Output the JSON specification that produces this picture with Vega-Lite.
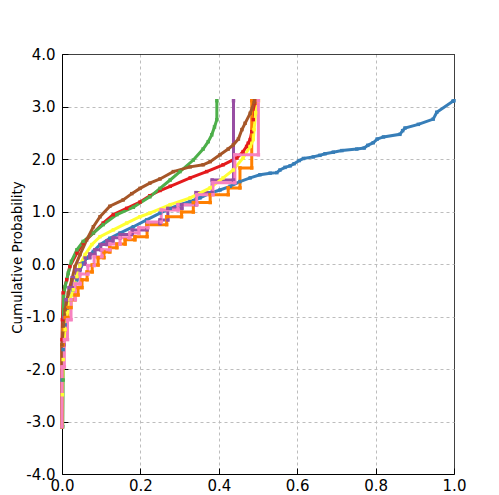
{
"$schema": "https://vega.github.io/schema/vega-lite/v6.json",
"autosize": {"type": "none"},
"width": 392, "height": 420,
"padding": {"left": 62, "top": 54, "right": 45, "bottom": 21},
"background": "white",
"config": {"view": {"stroke": null}, "font": "DejaVu Sans"},
"data": {"values": [
{"s":"R","i":1,"x":0,"y":-3.1},{"s":"R","i":2,"x":0,"y":-1.44},{"s":"R","i":3,"x":0.001,"y":-1.06},{"s":"R","i":4,"x":0.003,"y":-0.55},{"s":"R","i":5,"x":0.012,"y":-0.3},{"s":"R","i":6,"x":0.02,"y":-0.05},{"s":"R","i":7,"x":0.038,"y":0.21},{"s":"R","i":8,"x":0.054,"y":0.4},{"s":"R","i":9,"x":0.08,"y":0.59},{"s":"R","i":10,"x":0.105,"y":0.78},{"s":"R","i":11,"x":0.131,"y":0.94},{"s":"R","i":12,"x":0.165,"y":1.06},{"s":"R","i":13,"x":0.199,"y":1.18},{"s":"R","i":14,"x":0.224,"y":1.3},{"s":"R","i":15,"x":0.25,"y":1.4},{"s":"R","i":16,"x":0.276,"y":1.48},{"s":"R","i":17,"x":0.327,"y":1.64},{"s":"R","i":18,"x":0.369,"y":1.76},{"s":"R","i":19,"x":0.411,"y":1.89},{"s":"R","i":20,"x":0.446,"y":2.02},{"s":"R","i":21,"x":0.462,"y":2.14},{"s":"R","i":22,"x":0.471,"y":2.24},{"s":"R","i":23,"x":0.475,"y":2.3},{"s":"R","i":24,"x":0.48,"y":2.37},{"s":"R","i":25,"x":0.484,"y":2.52},{"s":"R","i":26,"x":0.488,"y":2.75},{"s":"R","i":27,"x":0.492,"y":3.06},{"s":"R","i":28,"x":0.494,"y":3.11},
{"s":"B","i":1,"x":0,"y":-3.1},{"s":"B","i":2,"x":0,"y":-2.21},{"s":"B","i":3,"x":0.003,"y":-1.63},{"s":"B","i":4,"x":0.008,"y":-1.16},{"s":"B","i":5,"x":0.013,"y":-0.87},{"s":"B","i":6,"x":0.02,"y":-0.68},{"s":"B","i":7,"x":0.028,"y":-0.49},{"s":"B","i":8,"x":0.038,"y":-0.3},{"s":"B","i":9,"x":0.046,"y":-0.11},{"s":"B","i":10,"x":0.054,"y":0.02},{"s":"B","i":11,"x":0.063,"y":0.11},{"s":"B","i":12,"x":0.08,"y":0.24},{"s":"B","i":13,"x":0.097,"y":0.37},{"s":"B","i":14,"x":0.122,"y":0.49},{"s":"B","i":15,"x":0.148,"y":0.59},{"s":"B","i":16,"x":0.182,"y":0.71},{"s":"B","i":17,"x":0.216,"y":0.84},{"s":"B","i":18,"x":0.25,"y":0.97},{"s":"B","i":19,"x":0.276,"y":1.06},{"s":"B","i":20,"x":0.301,"y":1.13},{"s":"B","i":21,"x":0.327,"y":1.19},{"s":"B","i":22,"x":0.352,"y":1.26},{"s":"B","i":23,"x":0.378,"y":1.35},{"s":"B","i":24,"x":0.403,"y":1.41},{"s":"B","i":25,"x":0.429,"y":1.48},{"s":"B","i":26,"x":0.454,"y":1.57},{"s":"B","i":27,"x":0.48,"y":1.64},{"s":"B","i":28,"x":0.505,"y":1.7},{"s":"B","i":29,"x":0.531,"y":1.73},{"s":"B","i":30,"x":0.548,"y":1.74},{"s":"B","i":31,"x":0.556,"y":1.79},{"s":"B","i":32,"x":0.569,"y":1.84},{"s":"B","i":33,"x":0.582,"y":1.87},{"s":"B","i":34,"x":0.592,"y":1.91},{"s":"B","i":35,"x":0.605,"y":1.97},{"s":"B","i":36,"x":0.616,"y":2.01},{"s":"B","i":37,"x":0.641,"y":2.04},{"s":"B","i":38,"x":0.658,"y":2.07},{"s":"B","i":39,"x":0.671,"y":2.1},{"s":"B","i":40,"x":0.692,"y":2.13},{"s":"B","i":41,"x":0.714,"y":2.16},{"s":"B","i":42,"x":0.752,"y":2.19},{"s":"B","i":43,"x":0.771,"y":2.21},{"s":"B","i":44,"x":0.78,"y":2.26},{"s":"B","i":45,"x":0.794,"y":2.31},{"s":"B","i":46,"x":0.804,"y":2.38},{"s":"B","i":47,"x":0.82,"y":2.42},{"s":"B","i":48,"x":0.862,"y":2.47},{"s":"B","i":49,"x":0.869,"y":2.54},{"s":"B","i":50,"x":0.875,"y":2.59},{"s":"B","i":51,"x":0.909,"y":2.66},{"s":"B","i":52,"x":0.947,"y":2.76},{"s":"B","i":53,"x":0.956,"y":2.89},{"s":"B","i":54,"x":0.997,"y":3.1},{"s":"B","i":55,"x":1.0,"y":3.11},
{"s":"G","i":1,"x":0.002,"y":-3.1},{"s":"G","i":2,"x":0.003,"y":-2.21},{"s":"G","i":3,"x":0.003,"y":-1.25},{"s":"G","i":4,"x":0.004,"y":-0.62},{"s":"G","i":5,"x":0.008,"y":-0.43},{"s":"G","i":6,"x":0.016,"y":-0.17},{"s":"G","i":7,"x":0.024,"y":0.05},{"s":"G","i":8,"x":0.038,"y":0.27},{"s":"G","i":9,"x":0.054,"y":0.43},{"s":"G","i":10,"x":0.08,"y":0.59},{"s":"G","i":11,"x":0.105,"y":0.75},{"s":"G","i":12,"x":0.14,"y":0.94},{"s":"G","i":13,"x":0.182,"y":1.08},{"s":"G","i":14,"x":0.224,"y":1.28},{"s":"G","i":15,"x":0.25,"y":1.44},{"s":"G","i":16,"x":0.276,"y":1.6},{"s":"G","i":17,"x":0.301,"y":1.76},{"s":"G","i":18,"x":0.335,"y":1.98},{"s":"G","i":19,"x":0.36,"y":2.19},{"s":"G","i":20,"x":0.373,"y":2.33},{"s":"G","i":21,"x":0.382,"y":2.46},{"s":"G","i":22,"x":0.389,"y":2.61},{"s":"G","i":23,"x":0.395,"y":2.75},{"s":"G","i":24,"x":0.395,"y":3.11},
{"s":"P","i":1,"x":0,"y":-3.1},{"s":"P","i":2,"x":0,"y":-1.54},{"s":"P","i":3,"x":0.005,"y":-1.54},{"s":"P","i":4,"x":0.005,"y":-1.02},{"s":"P","i":5,"x":0.01,"y":-1.02},{"s":"P","i":6,"x":0.01,"y":-0.68},{"s":"P","i":7,"x":0.018,"y":-0.68},{"s":"P","i":8,"x":0.018,"y":-0.45},{"s":"P","i":9,"x":0.026,"y":-0.45},{"s":"P","i":10,"x":0.026,"y":-0.26},{"s":"P","i":11,"x":0.036,"y":-0.26},{"s":"P","i":12,"x":0.036,"y":-0.11},{"s":"P","i":13,"x":0.046,"y":-0.11},{"s":"P","i":14,"x":0.046,"y":0.0},{"s":"P","i":15,"x":0.059,"y":0.0},{"s":"P","i":16,"x":0.059,"y":0.12},{"s":"P","i":17,"x":0.071,"y":0.12},{"s":"P","i":18,"x":0.071,"y":0.19},{"s":"P","i":19,"x":0.084,"y":0.19},{"s":"P","i":20,"x":0.084,"y":0.27},{"s":"P","i":21,"x":0.099,"y":0.27},{"s":"P","i":22,"x":0.099,"y":0.37},{"s":"P","i":23,"x":0.115,"y":0.37},{"s":"P","i":24,"x":0.115,"y":0.44},{"s":"P","i":25,"x":0.13,"y":0.44},{"s":"P","i":26,"x":0.13,"y":0.5},{"s":"P","i":27,"x":0.148,"y":0.5},{"s":"P","i":28,"x":0.148,"y":0.56},{"s":"P","i":29,"x":0.179,"y":0.56},{"s":"P","i":30,"x":0.179,"y":0.65},{"s":"P","i":31,"x":0.217,"y":0.65},{"s":"P","i":32,"x":0.217,"y":0.77},{"s":"P","i":33,"x":0.25,"y":0.77},{"s":"P","i":34,"x":0.25,"y":0.84},{"s":"P","i":35,"x":0.27,"y":0.84},{"s":"P","i":36,"x":0.27,"y":1.06},{"s":"P","i":37,"x":0.306,"y":1.06},{"s":"P","i":38,"x":0.306,"y":1.13},{"s":"P","i":39,"x":0.342,"y":1.13},{"s":"P","i":40,"x":0.342,"y":1.36},{"s":"P","i":41,"x":0.383,"y":1.36},{"s":"P","i":42,"x":0.383,"y":1.6},{"s":"P","i":43,"x":0.4375,"y":1.6},{"s":"P","i":44,"x":0.4375,"y":3.11},
{"s":"O","i":1,"x":0,"y":-3.1},{"s":"O","i":2,"x":0,"y":-1.54},{"s":"O","i":3,"x":0.003,"y":-1.54},{"s":"O","i":4,"x":0.003,"y":-1.25},{"s":"O","i":5,"x":0.008,"y":-1.25},{"s":"O","i":6,"x":0.008,"y":-1.02},{"s":"O","i":7,"x":0.015,"y":-1.02},{"s":"O","i":8,"x":0.015,"y":-0.83},{"s":"O","i":9,"x":0.023,"y":-0.83},{"s":"O","i":10,"x":0.023,"y":-0.68},{"s":"O","i":11,"x":0.033,"y":-0.68},{"s":"O","i":12,"x":0.033,"y":-0.59},{"s":"O","i":13,"x":0.041,"y":-0.59},{"s":"O","i":14,"x":0.041,"y":-0.45},{"s":"O","i":15,"x":0.051,"y":-0.45},{"s":"O","i":16,"x":0.051,"y":-0.3},{"s":"O","i":17,"x":0.064,"y":-0.3},{"s":"O","i":18,"x":0.064,"y":-0.15},{"s":"O","i":19,"x":0.077,"y":-0.15},{"s":"O","i":20,"x":0.077,"y":-0.02},{"s":"O","i":21,"x":0.092,"y":-0.02},{"s":"O","i":22,"x":0.092,"y":0.12},{"s":"O","i":23,"x":0.107,"y":0.12},{"s":"O","i":24,"x":0.107,"y":0.23},{"s":"O","i":25,"x":0.122,"y":0.23},{"s":"O","i":26,"x":0.122,"y":0.31},{"s":"O","i":27,"x":0.14,"y":0.31},{"s":"O","i":28,"x":0.14,"y":0.38},{"s":"O","i":29,"x":0.161,"y":0.38},{"s":"O","i":30,"x":0.161,"y":0.46},{"s":"O","i":31,"x":0.186,"y":0.46},{"s":"O","i":32,"x":0.186,"y":0.52},{"s":"O","i":33,"x":0.217,"y":0.52},{"s":"O","i":34,"x":0.217,"y":0.75},{"s":"O","i":35,"x":0.267,"y":0.75},{"s":"O","i":36,"x":0.267,"y":0.9},{"s":"O","i":37,"x":0.305,"y":0.9},{"s":"O","i":38,"x":0.305,"y":0.99},{"s":"O","i":39,"x":0.335,"y":0.99},{"s":"O","i":40,"x":0.335,"y":1.17},{"s":"O","i":41,"x":0.378,"y":1.17},{"s":"O","i":42,"x":0.378,"y":1.32},{"s":"O","i":43,"x":0.424,"y":1.32},{"s":"O","i":44,"x":0.424,"y":1.45},{"s":"O","i":45,"x":0.454,"y":1.45},{"s":"O","i":46,"x":0.454,"y":1.83},{"s":"O","i":47,"x":0.484,"y":1.83},{"s":"O","i":48,"x":0.484,"y":3.11},
{"s":"Y","i":1,"x":0,"y":-3.1},{"s":"Y","i":2,"x":0.001,"y":-2.49},{"s":"Y","i":3,"x":0.003,"y":-1.82},{"s":"Y","i":4,"x":0.008,"y":-1.25},{"s":"Y","i":5,"x":0.014,"y":-0.91},{"s":"Y","i":6,"x":0.02,"y":-0.68},{"s":"Y","i":7,"x":0.029,"y":-0.49},{"s":"Y","i":8,"x":0.038,"y":-0.24},{"s":"Y","i":9,"x":0.046,"y":-0.02},{"s":"Y","i":10,"x":0.059,"y":0.18},{"s":"Y","i":11,"x":0.076,"y":0.37},{"s":"Y","i":12,"x":0.097,"y":0.52},{"s":"Y","i":13,"x":0.131,"y":0.65},{"s":"Y","i":14,"x":0.165,"y":0.78},{"s":"Y","i":15,"x":0.199,"y":0.9},{"s":"Y","i":16,"x":0.224,"y":0.97},{"s":"Y","i":17,"x":0.276,"y":1.13},{"s":"Y","i":18,"x":0.327,"y":1.26},{"s":"Y","i":19,"x":0.378,"y":1.45},{"s":"Y","i":20,"x":0.411,"y":1.64},{"s":"Y","i":21,"x":0.437,"y":1.79},{"s":"Y","i":22,"x":0.462,"y":2.02},{"s":"Y","i":23,"x":0.48,"y":2.24},{"s":"Y","i":24,"x":0.488,"y":2.37},{"s":"Y","i":25,"x":0.49,"y":2.56},{"s":"Y","i":26,"x":0.494,"y":2.88},{"s":"Y","i":27,"x":0.501,"y":3.11},
{"s":"N","i":1,"x":0,"y":-3.1},{"s":"N","i":2,"x":0,"y":-1.54},{"s":"N","i":3,"x":0.004,"y":-1.16},{"s":"N","i":4,"x":0.008,"y":-0.87},{"s":"N","i":5,"x":0.016,"y":-0.55},{"s":"N","i":6,"x":0.025,"y":-0.3},{"s":"N","i":7,"x":0.033,"y":-0.05},{"s":"N","i":8,"x":0.046,"y":0.18},{"s":"N","i":9,"x":0.063,"y":0.46},{"s":"N","i":10,"x":0.08,"y":0.71},{"s":"N","i":11,"x":0.097,"y":0.9},{"s":"N","i":12,"x":0.122,"y":1.1},{"s":"N","i":13,"x":0.156,"y":1.22},{"s":"N","i":14,"x":0.178,"y":1.34},{"s":"N","i":15,"x":0.199,"y":1.44},{"s":"N","i":16,"x":0.224,"y":1.54},{"s":"N","i":17,"x":0.25,"y":1.62},{"s":"N","i":18,"x":0.284,"y":1.76},{"s":"N","i":19,"x":0.327,"y":1.85},{"s":"N","i":20,"x":0.36,"y":1.89},{"s":"N","i":21,"x":0.378,"y":1.95},{"s":"N","i":22,"x":0.403,"y":2.08},{"s":"N","i":23,"x":0.424,"y":2.19},{"s":"N","i":24,"x":0.437,"y":2.27},{"s":"N","i":25,"x":0.45,"y":2.38},{"s":"N","i":26,"x":0.459,"y":2.56},{"s":"N","i":27,"x":0.467,"y":2.68},{"s":"N","i":28,"x":0.48,"y":2.87},{"s":"N","i":29,"x":0.49,"y":3.07},{"s":"N","i":30,"x":0.491,"y":3.11},
{"s":"K","i":1,"x":0,"y":-3.1},{"s":"K","i":2,"x":0,"y":-1.96},{"s":"K","i":3,"x":0.006,"y":-1.96},{"s":"K","i":4,"x":0.006,"y":-1.44},{"s":"K","i":5,"x":0.014,"y":-1.44},{"s":"K","i":6,"x":0.014,"y":-1.06},{"s":"K","i":7,"x":0.023,"y":-1.06},{"s":"K","i":8,"x":0.023,"y":-0.68},{"s":"K","i":9,"x":0.034,"y":-0.68},{"s":"K","i":10,"x":0.034,"y":-0.38},{"s":"K","i":11,"x":0.046,"y":-0.38},{"s":"K","i":12,"x":0.046,"y":-0.19},{"s":"K","i":13,"x":0.066,"y":-0.19},{"s":"K","i":14,"x":0.066,"y":-0.03},{"s":"K","i":15,"x":0.082,"y":-0.03},{"s":"K","i":16,"x":0.082,"y":0.14},{"s":"K","i":17,"x":0.102,"y":0.14},{"s":"K","i":18,"x":0.102,"y":0.27},{"s":"K","i":19,"x":0.122,"y":0.27},{"s":"K","i":20,"x":0.122,"y":0.38},{"s":"K","i":21,"x":0.148,"y":0.38},{"s":"K","i":22,"x":0.148,"y":0.5},{"s":"K","i":23,"x":0.173,"y":0.5},{"s":"K","i":24,"x":0.173,"y":0.59},{"s":"K","i":25,"x":0.196,"y":0.59},{"s":"K","i":26,"x":0.196,"y":0.69},{"s":"K","i":27,"x":0.219,"y":0.69},{"s":"K","i":28,"x":0.219,"y":0.8},{"s":"K","i":29,"x":0.253,"y":0.8},{"s":"K","i":30,"x":0.253,"y":1.03},{"s":"K","i":31,"x":0.296,"y":1.03},{"s":"K","i":32,"x":0.296,"y":1.13},{"s":"K","i":33,"x":0.344,"y":1.13},{"s":"K","i":34,"x":0.344,"y":1.32},{"s":"K","i":35,"x":0.385,"y":1.32},{"s":"K","i":36,"x":0.385,"y":1.55},{"s":"K","i":37,"x":0.441,"y":1.55},{"s":"K","i":38,"x":0.441,"y":2.08},{"s":"K","i":39,"x":0.501,"y":2.08},{"s":"K","i":40,"x":0.501,"y":3.11}
]},
"encoding": {
 "x": {"field": "x", "type": "quantitative", "scale": {"domain": [0, 1], "nice": false, "zero": false},
  "axis": {"values": [0, 0.2, 0.4, 0.6, 0.8, 1.0], "format": ".1f", "title": null, "grid": true,
   "gridColor": {"condition": {"test": "datum.value >= 0.999", "value": "black"}, "value": "#bdbdbd"},
   "gridDash": {"condition": {"test": "datum.value >= 0.999", "value": [1, 0]}, "value": [3, 3]},
   "gridWidth": 1, "domainColor": "black", "tickColor": "black", "tickSize": -6, "labelPadding": 10, "labelFont": "DejaVu Sans", "labelFontSize": 15, "labelColor": "black", "labelFlush": false, "labelOverlap": false}},
 "y": {"field": "y", "type": "quantitative", "scale": {"domain": [-4, 4], "nice": false, "zero": false},
  "axis": {"values": [-4, -3, -2, -1, 0, 1, 2, 3, 4], "labelExpr": "datum.value < 0 ? '-' + format(-datum.value, '.1f') : format(datum.value, '.1f')", "title": "Cumulative Probability", "grid": true,
   "gridColor": {"condition": {"test": "datum.value >= 3.999", "value": "black"}, "value": "#bdbdbd"},
   "gridDash": {"condition": {"test": "datum.value >= 3.999", "value": [1, 0]}, "value": [3, 3]},
   "gridWidth": 1, "domainColor": "black", "tickColor": "black", "tickSize": -6, "labelPadding": 13, "labelFont": "DejaVu Sans", "labelFontSize": 15, "labelColor": "black", "labelFlush": false, "labelOverlap": false, "titleFont": "DejaVu Sans", "titleFontSize": 13.5, "titleFontWeight": "normal", "titleColor": "black", "titleX": -38, "titleY": 203, "titleBaseline": "bottom"}},
 "color": {"field": "s", "type": "nominal", "legend": null,
  "scale": {"domain": ["R", "B", "G", "P", "O", "Y", "N", "K"], "range": ["#e41a1c", "#377eb8", "#4daf4a", "#984ea3", "#ff7f00", "#ffff33", "#a65628", "#f781bf"]}}
},
"layer": [
 {"mark": {"type": "line", "strokeWidth": 3}, "encoding": {"order": {"field": "i", "type": "quantitative"}}},
 {"mark": {"type": "point", "shape": "square", "filled": true, "size": 12, "opacity": 1}, "encoding": {}}
]
}
